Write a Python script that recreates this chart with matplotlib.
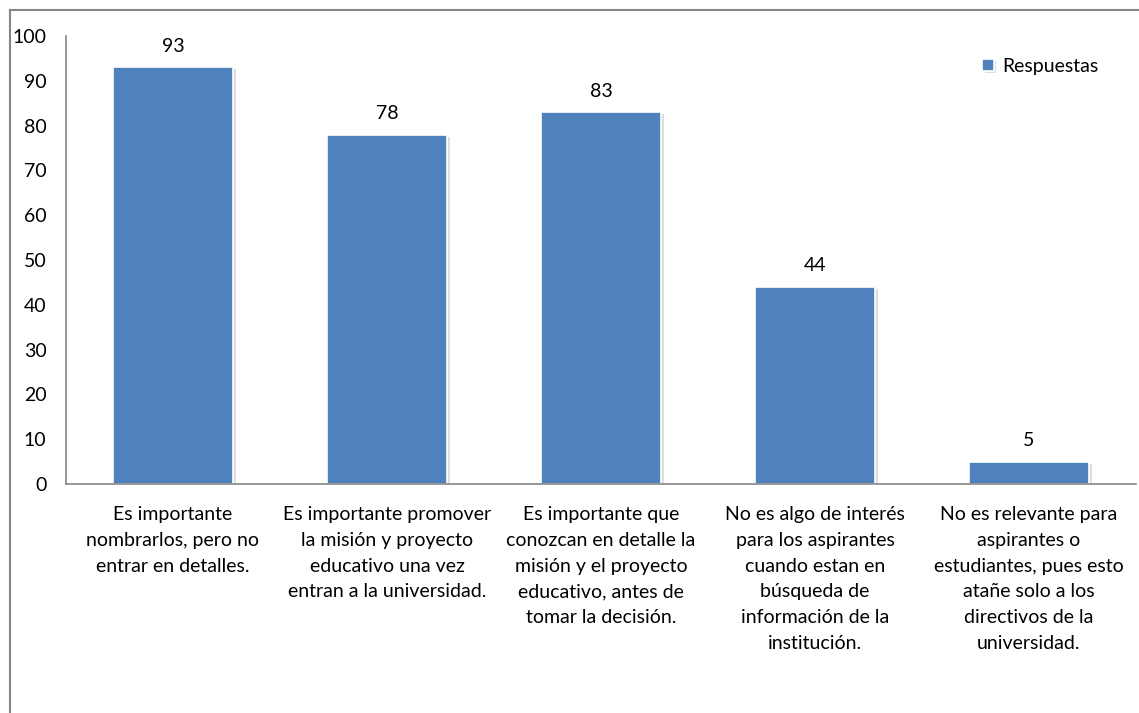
import matplotlib.pyplot as plt
import matplotlib.patheffects as pe
from matplotlib.lines import Line2D

categorias = [
    "Es importante\nnombrarlos, pero no\nentrar en detalles.",
    "Es importante promover\nla misión y proyecto\neducativo una vez\nentran a la universidad.",
    "Es importante que\nconozcan en detalle la\nmisión y el proyecto\neducativo, antes de\ntomar la decisión.",
    "No es algo de interés\npara los aspirantes\ncuando estan en\nbúsqueda de\ninformación de la\ninstitución.",
    "No es relevante para\naspirantes o\nestudiantes, pues esto\natañe solo a los\ndirectivos de la\nuniversidad.",
]
respuestas = [93, 78, 83, 44, 5]
serie = "Respuestas"
y_ticks = list(range(0, 101, 10))

plt.rcParams['font.family'] = ['Lato', 'DejaVu Sans']
W, H = 1139, 713
fig = plt.figure(figsize=(W / 100, H / 100), dpi=100)

# marco exterior (recortado a la derecha y abajo)
gris = '#868686'
fig.add_artist(Line2D([10 / W, 1], [1 - 10 / H, 1 - 10 / H], color=gris, lw=1.5))
fig.add_artist(Line2D([10 / W, 10 / W], [0, 1 - 10 / H], color=gris, lw=1.5))

ax = fig.add_axes([66 / W, 1 - 484 / H, (1136 - 66) / W, (484 - 36) / H])
x = range(len(respuestas))
barras = ax.bar(x, respuestas, width=0.565, color='#4F81BD', edgecolor='white',
                linewidth=1.2, label=serie,
                path_effects=[pe.SimplePatchShadow(offset=(1.5, -1.5), shadow_rgbFace='#c8c8c8', alpha=0.6),
                              pe.Normal()])

for xi, v in zip(x, respuestas):
    ax.annotate(str(v), (xi, v), xytext=(0, 9), textcoords='offset points',
                ha='center', va='bottom', fontsize=14)

ax.set_xlim(-0.5, len(respuestas) - 0.5)
ax.set_ylim(0, 100)
ax.set_yticks(y_ticks)
ax.set_xticks(list(x))
ax.set_xticklabels(categorias, fontsize=14, linespacing=1.62, va='top')
ax.tick_params(axis='both', length=0, labelsize=14)
ax.tick_params(axis='y', pad=14)
ax.tick_params(axis='x', pad=16)
for s in ['top', 'right']:
    ax.spines[s].set_visible(False)
for s in ['left', 'bottom']:
    ax.spines[s].set_color(gris)
    ax.spines[s].set_linewidth(1.2)

ax.legend(loc='upper right', bbox_to_anchor=(0.981, 0.99), frameon=False, fontsize=14,
          handlelength=0.6, handleheight=0.6, handletextpad=0.4)

fig.savefig('out.png', dpi=100)
